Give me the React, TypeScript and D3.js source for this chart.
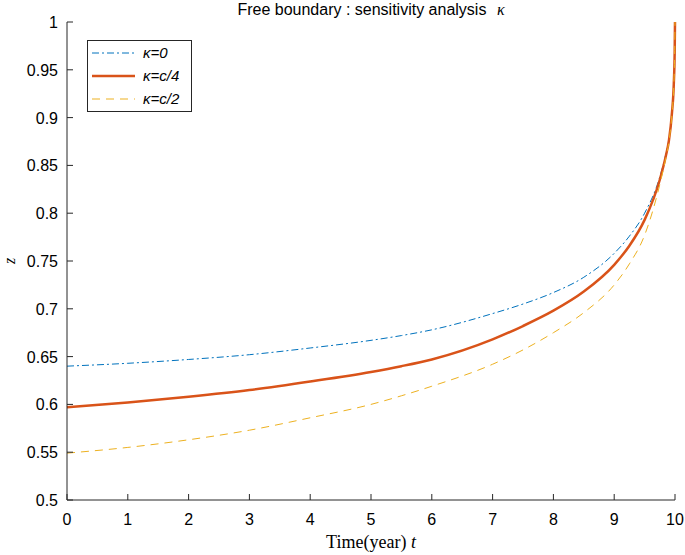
import React from "react";
import * as d3 from "d3";

const tValues = [0, 1, 2, 3, 4, 5, 5.5, 6, 7, 7.5, 8, 8.5, 9, 9.25, 9.5, 9.75, 9.85, 9.9, 9.95, 9.98, 9.995, 10];
const kappa0 = [0.640, 0.643, 0.647, 0.652, 0.659, 0.667, 0.672, 0.678, 0.695, 0.705, 0.717, 0.733, 0.758, 0.776, 0.800, 0.838, 0.862, 0.877, 0.905, 0.935, 0.970, 1.0];
const kappaC4 = [0.597, 0.602, 0.608, 0.615, 0.624, 0.634, 0.640, 0.647, 0.668, 0.682, 0.698, 0.718, 0.746, 0.766, 0.793, 0.835, 0.860, 0.876, 0.905, 0.935, 0.970, 1.0];
const kappaC2 = [0.549, 0.555, 0.563, 0.573, 0.586, 0.600, 0.609, 0.619, 0.642, 0.657, 0.675, 0.696, 0.725, 0.747, 0.777, 0.830, 0.858, 0.875, 0.904, 0.934, 0.970, 1.0];
const xTicks = [0, 1, 2, 3, 4, 5, 6, 7, 8, 9, 10];
const yTicks = [0.5, 0.55, 0.6, 0.65, 0.7, 0.75, 0.8, 0.85, 0.9, 0.95, 1];
const seriesNames = ["κ=0", "κ=c/4", "κ=c/2"];

export default function App() {
  const W = 685, H = 555;
  const x = d3.scaleLinear().domain([0, 10]).range([67, 675]);
  const y = d3.scaleLinear().domain([0.5, 1]).range([500, 22]);
  const line = d3.line<[number, number]>().x(d => x(d[0])).y(d => y(d[1])).curve(d3.curveMonotoneX);
  const series = [
    { name: seriesNames[0], vals: kappa0, color: "#0072BD", w: 1, dash: "7,3,2,3" },
    { name: seriesNames[1], vals: kappaC4, color: "#D95319", w: 2.5, dash: "" },
    { name: seriesNames[2], vals: kappaC2, color: "#EDB120", w: 1, dash: "8,6" },
  ];
  const font = "'Liberation Sans', Arial, Helvetica, sans-serif";
  const serif = "'Liberation Serif', 'DejaVu Serif', serif";
  return (
    <svg width={W} height={H} style={{ position: "absolute", left: 0, top: 0, background: "#fff" }}>
      {series.map((s, i) => (
        <path key={i} d={line(tValues.map((t, j) => [t, s.vals[j]] as [number, number])) || ""}
          fill="none" stroke={s.color} strokeWidth={s.w} strokeDasharray={s.dash} />
      ))}
      {/* axes */}
      <line x1={67} x2={67} y1={22} y2={500} stroke="#262626" strokeWidth={1} />
      <line x1={67} x2={675} y1={500} y2={500} stroke="#262626" strokeWidth={1} />
      {xTicks.map(t => (
        <g key={"x" + t}>
          <line x1={x(t)} x2={x(t)} y1={500} y2={494} stroke="#262626" />
          <text x={x(t)} y={525} textAnchor="middle" fontFamily={font} fontSize={16} fill="#000">{t}</text>
        </g>
      ))}
      {yTicks.map(v => (
        <g key={"y" + v}>
          <line x1={67} x2={73} y1={y(v)} y2={y(v)} stroke="#262626" />
          <text x={58} y={y(v) + 6} textAnchor="end" fontFamily={font} fontSize={16} fill="#000">{String(v)}</text>
        </g>
      ))}
      {/* title */}
      <text x={371} y={15} textAnchor="middle" fontFamily={font} fontSize={16} fill="#000">
        Free boundary : sensitivity analysis <tspan fontFamily={serif} fontStyle="italic" dx={6}>κ</tspan>
      </text>
      {/* x label */}
      <text x={371} y={548} textAnchor="middle" fontFamily={serif} fontSize={18} fill="#000">
        Time(year) <tspan fontStyle="italic">t</tspan>
      </text>
      {/* y label */}
      <text transform="translate(15,261) rotate(-90)" textAnchor="middle" fontFamily={serif} fontStyle="italic" fontSize={16} fill="#000">z</text>
      {/* legend */}
      <rect x={87.5} y={40.5} width={104} height={71} fill="#fff" stroke="#262626" strokeWidth={1} />
      {series.map((s, i) => {
        const ly = 53 + i * 23;
        return (
          <g key={"l" + i}>
            <line x1={92} x2={135} y1={ly} y2={ly} stroke={s.color} strokeWidth={s.w} strokeDasharray={s.dash} />
            <text x={143} y={ly + 5} fontFamily={font} fontStyle="italic" fontSize={15} fill="#000">{s.name}</text>
          </g>
        );
      })}
    </svg>
  );
}
